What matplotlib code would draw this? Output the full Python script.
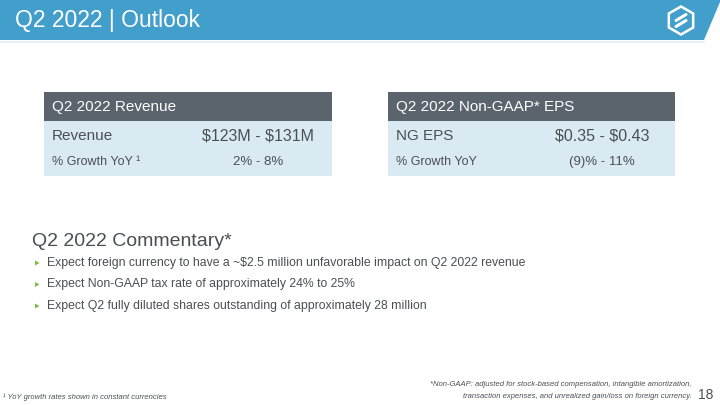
import matplotlib
matplotlib.use("Agg")
from matplotlib import pyplot as plt
from matplotlib.patches import Polygon, Rectangle

plt.rcParams['font.family'] = ['Liberation Sans', 'DejaVu Sans']
plt.rcParams['text.parse_math'] = False

titulo = "Q2 2022 | Outlook"

rev_titulo = "Q2 2022 Revenue"
rev_linhas = ["Revenue", "% Growth YoY ¹"]
rev_valores = ["$123M - $131M", "2% - 8%"]

eps_titulo = "Q2 2022 Non-GAAP* EPS"
eps_linhas = ["NG EPS", "% Growth YoY"]
eps_valores = ["$0.35 - $0.43", "(9)% - 11%"]

comentario_titulo = "Q2 2022 Commentary*"
comentarios = [
    "Expect foreign currency to have a ~$2.5 million unfavorable impact on Q2 2022 revenue",
    "Expect Non-GAAP tax rate of approximately 24% to 25%",
    "Expect Q2 fully diluted shares outstanding of approximately 28 million",
]

nota_esq = "¹ YoY growth rates shown in constant currencies"
nota_dir = ["*Non-GAAP: adjusted for stock-based compensation, intangible amortization,",
            "transaction expenses, and unrealized gain/loss on foreign currency."]
pagina = "18"

AZUL = "#429ECB"
CINZA_ESCURO = "#5B646D"
AZUL_CLARO = "#DAEAF3"
TEXTO = "#4A4F55"

fig = plt.figure(figsize=(7.2, 4.05), dpi=100)
ax = fig.add_axes([0, 0, 1, 1])
ax.set_xlim(0, 720)
ax.set_ylim(405, 0)
ax.axis("off")

# faixa do titulo
ax.add_patch(Polygon([(0, 0), (720, 0), (720, 2), (704, 40), (0, 40)],
                     closed=True, color=AZUL, lw=0))
ax.plot([0, 704], [41.5, 41.5], color="#E4EEF4", lw=1.2)
ax.text(15, 21, titulo, color="white", fontsize=16.5, va="center", ha="left")

# logo
hx, hy, r = 681, 20.5, 14
hexa = [(hx, hy - r), (hx + 0.87 * r, hy - r / 2), (hx + 0.87 * r, hy + r / 2),
        (hx, hy + r), (hx - 0.87 * r, hy + r / 2), (hx - 0.87 * r, hy - r / 2)]
ax.add_patch(Polygon(hexa, closed=True, fill=False, ec="white", lw=1.8))
for dy in (-3, 3):
    ax.plot([hx - 5, hx + 5], [hy + dy + 3, hy + dy - 3], color="white", lw=2.2,
            solid_capstyle="round")


def tabela(x0, x1, titulo_tab, linhas, valores, xval):
    ax.add_patch(Rectangle((x0, 92), x1 - x0, 29, color=CINZA_ESCURO, lw=0))
    ax.add_patch(Rectangle((x0, 121), x1 - x0, 55, color=AZUL_CLARO, lw=0))
    ax.text(x0 + 8, 106.5, titulo_tab, color="white", fontsize=11, va="center")
    tamanhos = [11, 9]
    ys = [136, 162]
    for nome, val, fs, y in zip(linhas, valores, tamanhos, ys):
        ax.text(x0 + 8, y, nome, color=TEXTO, fontsize=fs, va="center")
        ax.text(xval, y, val, color=TEXTO, fontsize=fs + 0.5, va="center", ha="center")


tabela(44, 332, rev_titulo, rev_linhas, rev_valores, 258)
tabela(388, 675, eps_titulo, eps_linhas, eps_valores, 602)

ax.text(32, 242, comentario_titulo, color=TEXTO, fontsize=14, va="center")
for i, c in enumerate(comentarios):
    y = 263 + i * 21.5
    ax.add_patch(Polygon([(35, y - 2.5), (35, y + 2.5), (39.5, y)], closed=True,
                         color="#7DBB42", lw=0))
    ax.text(47, y, c, color=TEXTO, fontsize=8.8, va="center")

ax.text(3, 397, nota_esq, color=TEXTO, fontsize=5.5, style="italic", va="center")
ax.text(692, 384, nota_dir[0], color=TEXTO, fontsize=5.5, style="italic",
        va="center", ha="right")
ax.text(692, 397, nota_dir[1], color=TEXTO, fontsize=5.5, style="italic",
        va="center", ha="right")
ax.text(713, 395, pagina, color=TEXTO, fontsize=10, va="center", ha="right")

fig.savefig("out.png", dpi=100)
